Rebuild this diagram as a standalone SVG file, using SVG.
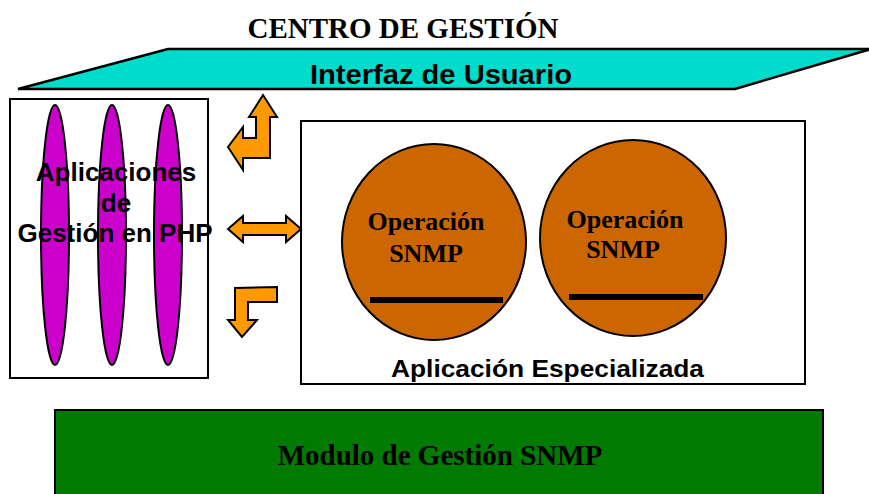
<svg xmlns="http://www.w3.org/2000/svg" width="869" height="494" viewBox="0 0 869 494">
<style>
.serif{font-family:"Liberation Serif","Times New Roman",serif;font-weight:bold;fill:#000}
.sans{font-family:"Liberation Sans",Arial,sans-serif;font-weight:bold;fill:#000}
.arrow{fill:#ff9900;stroke:#000;stroke-width:2;stroke-linejoin:miter}
.pill{fill:#cc00cc;stroke:#000;stroke-width:2}
.op{fill:#cc6600;stroke:#000;stroke-width:2}
.box{fill:#fff;stroke:#000;stroke-width:2}
</style>
<rect width="869" height="494" fill="#fff"/>
<text class="serif" x="403" y="38" font-size="29" text-anchor="middle">CENTRO DE GESTIÓN</text>

<g id="interfaz">
<polygon points="168,49 871,49 735,89 18,89" fill="#00dccb" stroke="#000" stroke-width="2.5"/>
<text class="sans" x="310" y="84" font-size="27" textLength="262" lengthAdjust="spacingAndGlyphs">Interfaz de Usuario</text>
</g>

<g id="aplicaciones-php">
<rect class="box" x="10" y="99" width="198" height="279"/>
<ellipse class="pill" cx="55" cy="235" rx="14" ry="130"/>
<ellipse class="pill" cx="112" cy="235" rx="14" ry="130"/>
<ellipse class="pill" cx="168" cy="235" rx="14" ry="130"/>
<text class="sans" font-size="26" text-anchor="middle"><tspan x="116" y="181">Aplicaciones</tspan><tspan x="116" y="212">de</tspan><tspan x="115" y="242">Gestión en PHP</tspan></text>
</g>

<g id="aplicacion-especializada">
<rect class="box" x="301" y="121" width="504" height="263"/>
<text class="sans" x="391" y="377" font-size="24" textLength="313" lengthAdjust="spacingAndGlyphs">Aplicación Especializada</text>
</g>

<g id="operacion-snmp-1">
<ellipse class="op" cx="434" cy="242" rx="92" ry="98"/>
<line x1="370" y1="300" x2="503" y2="300" stroke="#000" stroke-width="6"/>
<text class="serif" font-size="26" text-anchor="middle"><tspan x="426" y="230">Operación</tspan><tspan x="426" y="262">SNMP</tspan></text>
</g>

<g id="operacion-snmp-2">
<ellipse class="op" cx="633" cy="238" rx="93" ry="98"/>
<line x1="569" y1="297" x2="703" y2="297" stroke="#000" stroke-width="6"/>
<text class="serif" font-size="26" text-anchor="middle"><tspan x="625" y="228">Operación</tspan><tspan x="623" y="258">SNMP</tspan></text>
</g>

<g id="modulo-snmp">
<rect x="55" y="410" width="768" height="90" fill="#007a00" stroke="#000" stroke-width="2"/>
<text class="serif" x="440" y="465" font-size="29" text-anchor="middle">Modulo de Gestión SNMP</text>
</g>

<g id="connectors">
<polygon class="arrow" points="263,95 277,117 270,117 270,158 243,158 243,170 228,147 243,127 243,138 256,138 256,117 249,117"/>
<polygon class="arrow" points="228,229 243,216 243,223 286,223 286,216 301,229 286,242 286,235 243,235 243,242"/>
<polygon class="arrow" points="235,288 277,287 277,302 248,302 248,320 257,320 242,337 228,320 235,320"/>
</g>
</svg>
